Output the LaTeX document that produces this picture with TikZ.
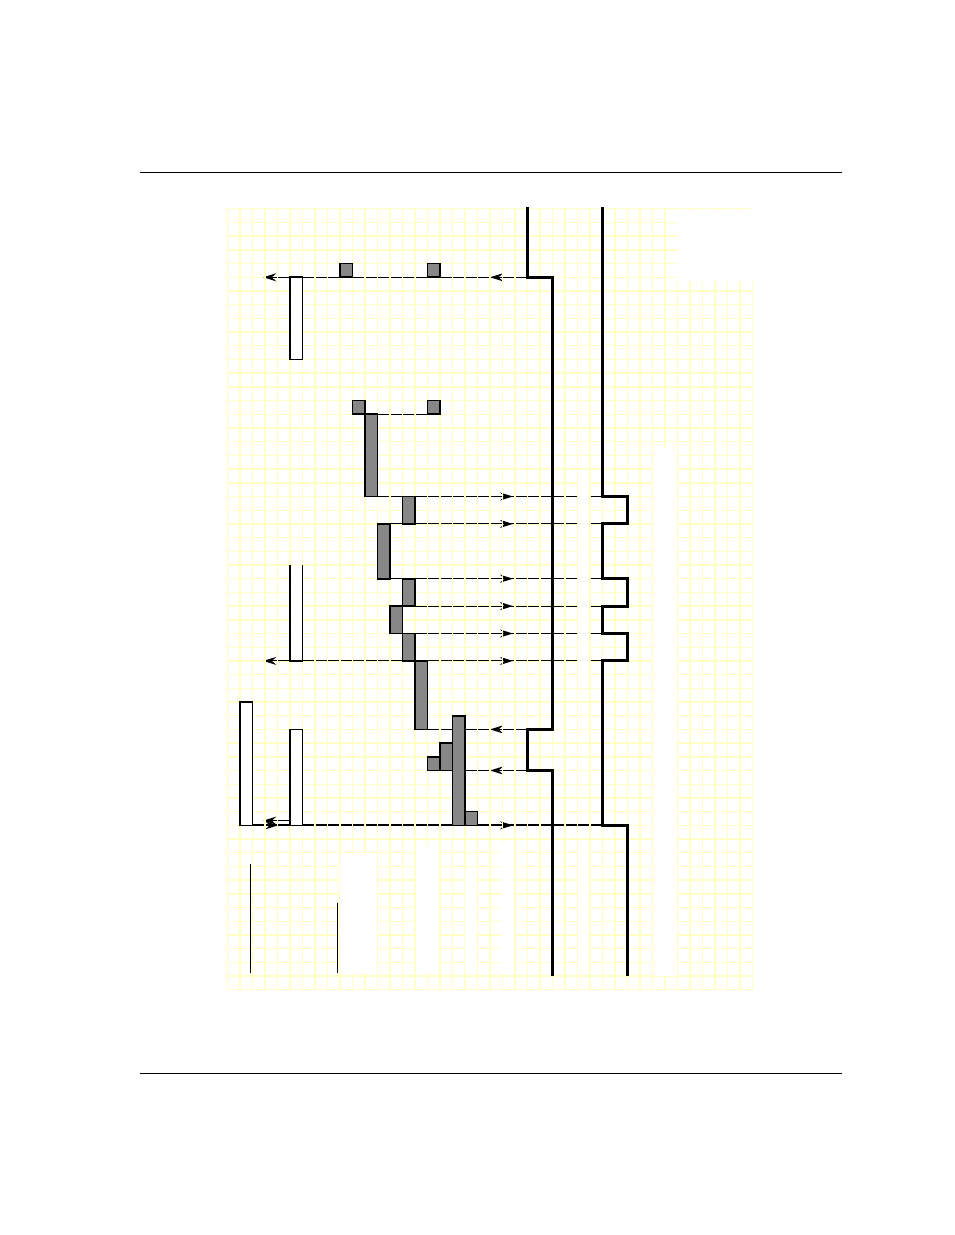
\documentclass[tikz,border=0pt]{standalone}
\usetikzlibrary{arrows.meta}
\definecolor{gridyel}{RGB}{255,255,198}
\definecolor{shade}{RGB}{135,135,135}
\begin{document}
\begin{tikzpicture}[x=12.5pt,y=-13.7pt,
  gridln/.style={gridyel,line width=1.4pt},
  sig/.style={line width=3pt,line join=miter},
  act/.style={draw=black,fill=shade,line width=1.6pt},
  bar/.style={draw=black,fill=white,line width=1.6pt},
  msg/.style={line width=1pt},
  tip/.style={line width=1pt,-{Stealth[length=13pt,width=8pt,inset=4.5pt]}},
  patch/.style={fill=white,draw=none},
  rulel/.style={line width=1pt}]
\useasboundingbox[fill=white] (-18.184,-15.2409) rectangle (58.136,74.905);
% page rules
\coordinate (rt1) at (-6.984,-2.613); \coordinate (rt2) at (49.176,-2.613);
\coordinate (rb1) at (-6.984,63.08); \coordinate (rb2) at (49.176,63.08);
\draw[rulel] (rt1) -- (rt2);
\draw[rulel] (rb1) -- (rb2);
% ---- horizontal grid lines (below the messages) ----
\foreach \j in {0,...,57}{\draw[gridln] (0,\j) -- (42,\j);}
% ---- thin message lines ----
\coordinate (a5) at (24,5); \coordinate (l5) at (2.88,5);
\draw[tip] (a5) -- (l5);
\draw[tip] (22.1,5) -- (21.02,5);
\coordinate (s15) at (12,15); \coordinate (e15) at (16,15);
\draw[msg] (s15) -- (e15);
\foreach \r/\s in {21/12,23/13,27/13,29/14,31/14}{
  \coordinate (p\r) at (\s,\r); \coordinate (q\r) at (30,\r);
  \draw[msg] (p\r) -- (q\r);
  \draw[tip] (21.8,\r) -- (22.85,\r);
}
\coordinate (b33) at (30,33); \coordinate (l33) at (2.88,33);
\draw[tip] (b33) -- (l33);
\draw[tip] (21.8,33) -- (22.85,33);
\coordinate (a38) at (24,38); \coordinate (e38) at (16,38);
\draw[msg] (a38) -- (e38);
\draw[tip] (22.1,38) -- (21.02,38);
\coordinate (a41) at (24,41); \coordinate (e41) at (19,41);
\draw[msg] (a41) -- (e41);
\draw[tip] (22.1,41) -- (21.02,41);
\coordinate (w45) at (2,45); \coordinate (b45) at (30,45);
\draw[line width=2pt] (w45) -- (b45);
\draw[tip,line width=1.5pt] (3,45) -- (4.08,45);
\draw[tip] (21.8,45) -- (22.85,45);
\coordinate (w44) at (5,44.66); \coordinate (l44) at (2.88,44.66);
\draw[tip] (w44) -- (l44);
% bottom thin vertical lines
\coordinate (v1a) at (1.82,47.8); \coordinate (v1b) at (1.82,55.8);
\coordinate (v2a) at (8.82,50.65); \coordinate (v2b) at (8.82,55.8);
\draw[msg] (v1a) -- (v1b);
\draw[msg] (v2a) -- (v2b);
% ---- vertical grid lines (over the messages) ----
\foreach \i in {0,...,42}{\draw[gridln] (\i,0) -- (\i,57);}
% ---- blank patches ----
\fill[patch] (35.96,0.07) rectangle (42.6,5.3);
\fill[patch] (34.04,17.45) rectangle (35.96,56.0);
\fill[patch] (28.04,19.6) rectangle (28.96,34.4);
\fill[patch] (21.9,46.3) rectangle (22.96,55.8);
\fill[patch] (28.04,46.3) rectangle (28.96,55.8);
\fill[patch] (9.04,47.05) rectangle (11.96,55.8);
\fill[patch] (15.1,46.5) rectangle (16.96,55.8);
\fill[patch] (19.04,48.2) rectangle (19.96,55.8);
% ---- white bars ----
\draw[bar] (5,5) rectangle (6,11);
\fill[white] (5,26) rectangle (6,33);
\draw[line width=1.6pt] (5,26) -- (5,33) -- (6,33) -- (6,26);
\draw[bar] (1,36) rectangle (2,45);
\draw[bar] (5,38) rectangle (6,45);
% ---- shaded activity boxes ----
\draw[act] (9,4) rectangle (10,5);
\draw[act] (16,4) rectangle (17,5);
\draw[act] (10,14) rectangle (11,15);
\draw[act] (16,14) rectangle (17,15);
\draw[act] (11,15) rectangle (12,21);
\draw[act] (14,21) rectangle (15,23);
\draw[act] (12,23) rectangle (13,27);
\draw[act] (14,27) rectangle (15,29);
\draw[act] (13,29) rectangle (14,31);
\draw[act] (14,31) rectangle (15,33);
\draw[act] (15,33) rectangle (16,38);
\draw[act] (18,37) rectangle (19,45);
\draw[act] (17,39) rectangle (18,41);
\draw[act] (16,40) rectangle (17,41);
\draw[act] (19,44) rectangle (20,45);
% ---- thick signal lines ----
\draw[sig] (24,-0.1) -- (24,5) -- (26,5) -- (26,38) -- (24,38) -- (24,41) -- (26,41) -- (26,56);
\draw[sig] (30,-0.1) -- (30,21) -- (32,21) -- (32,23) -- (30,23) -- (30,27) -- (32,27) -- (32,29)
  -- (30,29) -- (30,31) -- (32,31) -- (32,33) -- (30,33) -- (30,45) -- (32,45) -- (32,56);
\end{tikzpicture}
\end{document}
